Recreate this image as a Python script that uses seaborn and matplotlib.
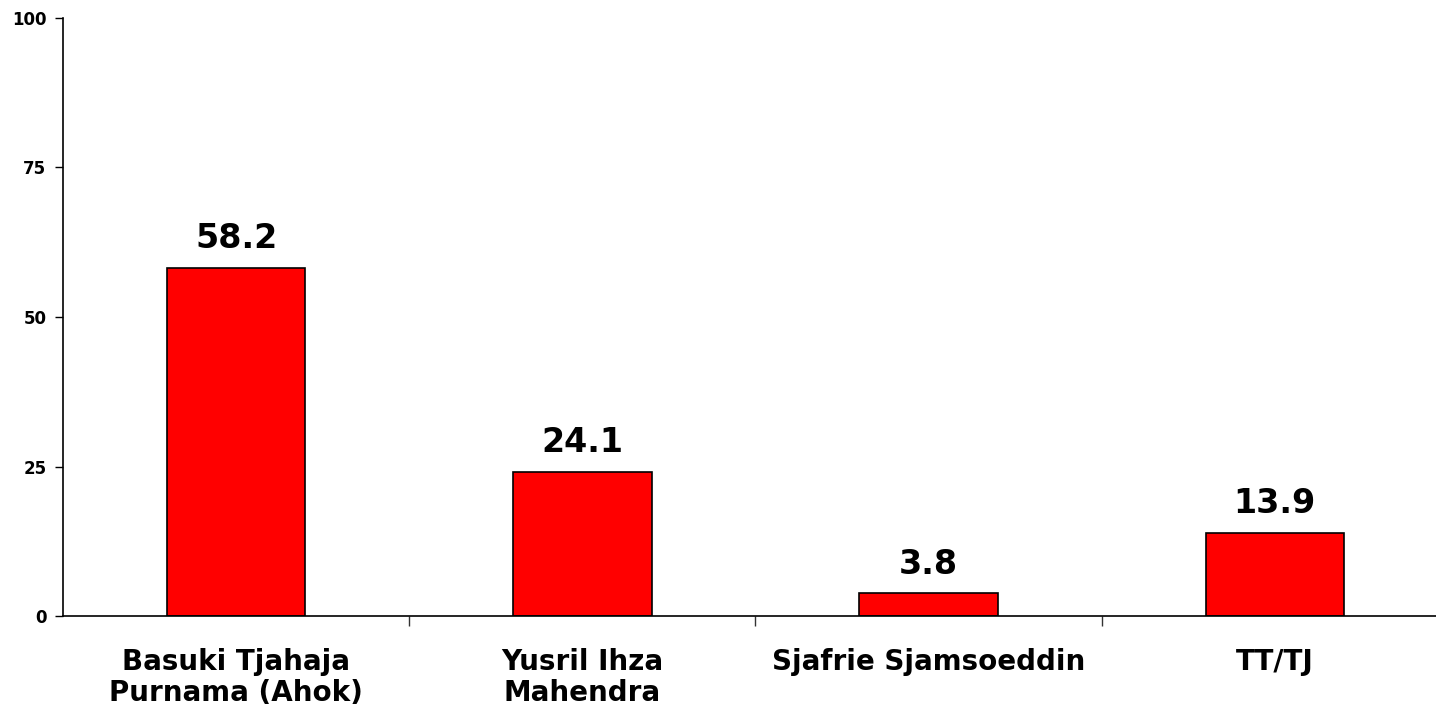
import matplotlib
matplotlib.use("Agg")
import matplotlib.pyplot as plt
import seaborn as sns
import pandas as pd

categories = ["Basuki Tjahaja\nPurnama (Ahok)", "Yusril Ihza\nMahendra", "Sjafrie Sjamsoeddin", "TT/TJ"]
values = [58.2, 24.1, 3.8, 13.9]
value_labels = ["58.2", "24.1", "3.8", "13.9"]
y_ticks = [0, 25, 50, 75, 100]

sns.set_theme(style="white")
plt.rcParams['font.family'] = ['DejaVu Sans']

df = pd.DataFrame({"cat": categories, "val": values})

fig = plt.figure(figsize=(14.36, 7.10), dpi=100)
ax = fig.add_axes([63/1436, (710-616)/710, (1448-63)/1436, (616-18)/710])

sns.barplot(data=df, x="cat", y="val", color="#ff0000", saturation=1,
            width=0.40, edgecolor="black", linewidth=1.2, ax=ax)

for cont in ax.containers:
    ax.bar_label(cont, labels=value_labels, padding=9, fontsize=24,
                 fontweight="bold", color="black")

ax.set_xlim(-0.5, 3.5)
ax.set_ylim(0, 100)
ax.set_yticks(y_ticks)
ax.set_yticklabels([str(t) for t in y_ticks], fontsize=12, fontweight="bold", color="black")
ax.set_xlabel("")
ax.set_ylabel("")

ax.set_xticks([0, 1, 2, 3])
ax.set_xticklabels(categories, fontsize=20, fontweight="bold", color="black", linespacing=1.12)
ax.tick_params(axis="x", which="major", length=0, pad=23)
ax.set_xticks([0.5, 1.5, 2.5], minor=True)
ax.tick_params(axis="x", which="minor", bottom=True, length=7, width=1, color="#333333", direction="out")
ax.tick_params(axis="y", length=6, width=1, color="black", direction="out", pad=6, left=True)

for s in ["top", "right"]:
    ax.spines[s].set_visible(False)
for s in ["left", "bottom"]:
    ax.spines[s].set_color("black")
    ax.spines[s].set_linewidth(1.2)

fig.savefig("out.png", dpi=100, facecolor="white")
